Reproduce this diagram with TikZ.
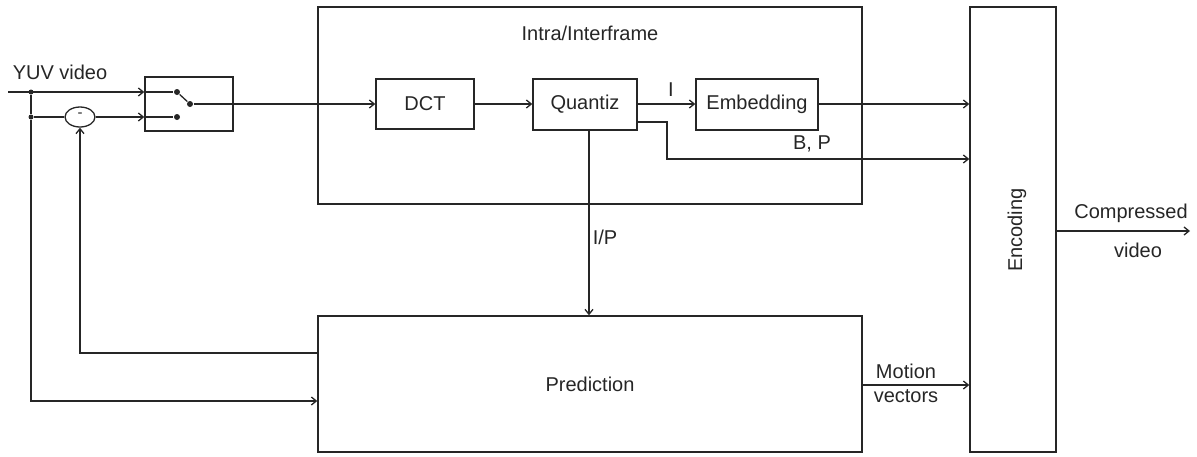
\documentclass[tikz,border=0pt]{standalone}
\usepackage{fontspec}
\setmainfont{Liberation Sans}
\usetikzlibrary{arrows.meta,shapes.geometric}
\begin{document}
\begin{tikzpicture}[x=1pt,y=-1pt,
  line width=1.3pt, draw=black!85,
  every node/.style={font=\fontsize{20}{22}\selectfont, text=black!85},
  blk/.style={draw, rectangle, inner sep=0pt},
  arr/.style={-{Straight Barb[length=5pt,width=8pt]}},
  dot/.style={circle, fill=black!85, inner sep=0pt, minimum size=6pt}]
\useasboundingbox (0,0) rectangle (1197,456);
% big boxes
\node[blk, minimum width=544pt, minimum height=197pt] (intra) at (590,105.5) {};
\node at (590,33) {Intra/Interframe};
\node[blk, minimum width=544pt, minimum height=136pt] (pred) at (590,384) {Prediction};
\node[blk, minimum width=86pt, minimum height=445pt] (enc) at (1013,229.5) {};
\node[rotate=90] at (1017,230) {Encoding};
% inner boxes
\node[blk, minimum width=98pt, minimum height=50pt] (dct) at (425,104) {DCT};
\node[blk, minimum width=104pt, minimum height=51pt] (quant) at (585,104.5) {Quantiz};
\node[blk, minimum width=122pt, minimum height=51pt] (emb) at (757,104.5) {Embedding};
% switch
\node[blk, minimum width=88pt, minimum height=54pt] (sw) at (189,104) {};
\node[dot] (s1) at (177,92) {};
\node[dot] (s2) at (177,117) {};
\node[dot] (sc) at (190,104) {};
\draw (s1) -- (sc);
% minus
\node[draw, ellipse, minimum width=30pt, minimum height=20pt, inner sep=0pt] (minus) at (80,117) {};
\node[font=\fontsize{15}{15}\selectfont] at (80,115) {-};
% input
\node at (60,72) {YUV video};
\coordinate (in) at (8,92);
\node[dot, minimum size=5pt] (d1) at (31,92) {};
\node[dot, minimum size=5pt] (d2) at (31,117) {};
\draw[arr] (in) -- (sw.west |- s1);
\draw (sw.west |- s1) -- (s1);
\draw (d1) -- (d2);
\draw (d2) -- (minus);
\draw[arr] (minus) -- (sw.west |- s2);
\draw (sw.west |- s2) -- (s2);
\draw[arr] (d2) -- (31,401) -- (pred.west |- 0,401);
\draw[arr] (pred.west |- 0,353) -- (80,353) -- (minus.south);
% main chain
\draw[arr] (sc) -- (dct.west |- sc);
\draw[arr] (dct.east) -- (quant.west |- dct.east);
\draw[arr] (quant.east |- 0,104) -- (emb.west |- 0,104);
\node at (671,90) {I};
\draw[arr] (emb.east |- 0,104) -- (enc.west |- 0,104);
\draw[arr] (quant.east |- 0,122) -- (667,122) -- (667,159) -- (enc.west |- 0,159);
\node at (812,144) {B, P};
\draw[arr] (quant.south -| 589,0) -- (pred.north -| 589,0);
\node at (605,237) {I/P};
\draw[arr] (pred.east |- 0,385) -- (enc.west |- 0,385);
\node at (906,371) {Motion};
\node at (906,396) {vectors};
\coordinate (out) at (1190,231);
\draw[arr] (enc.east |- out) -- (out);
\node at (1131,213) {Compressed};
\node at (1138,250) {video};
\end{tikzpicture}
\end{document}
